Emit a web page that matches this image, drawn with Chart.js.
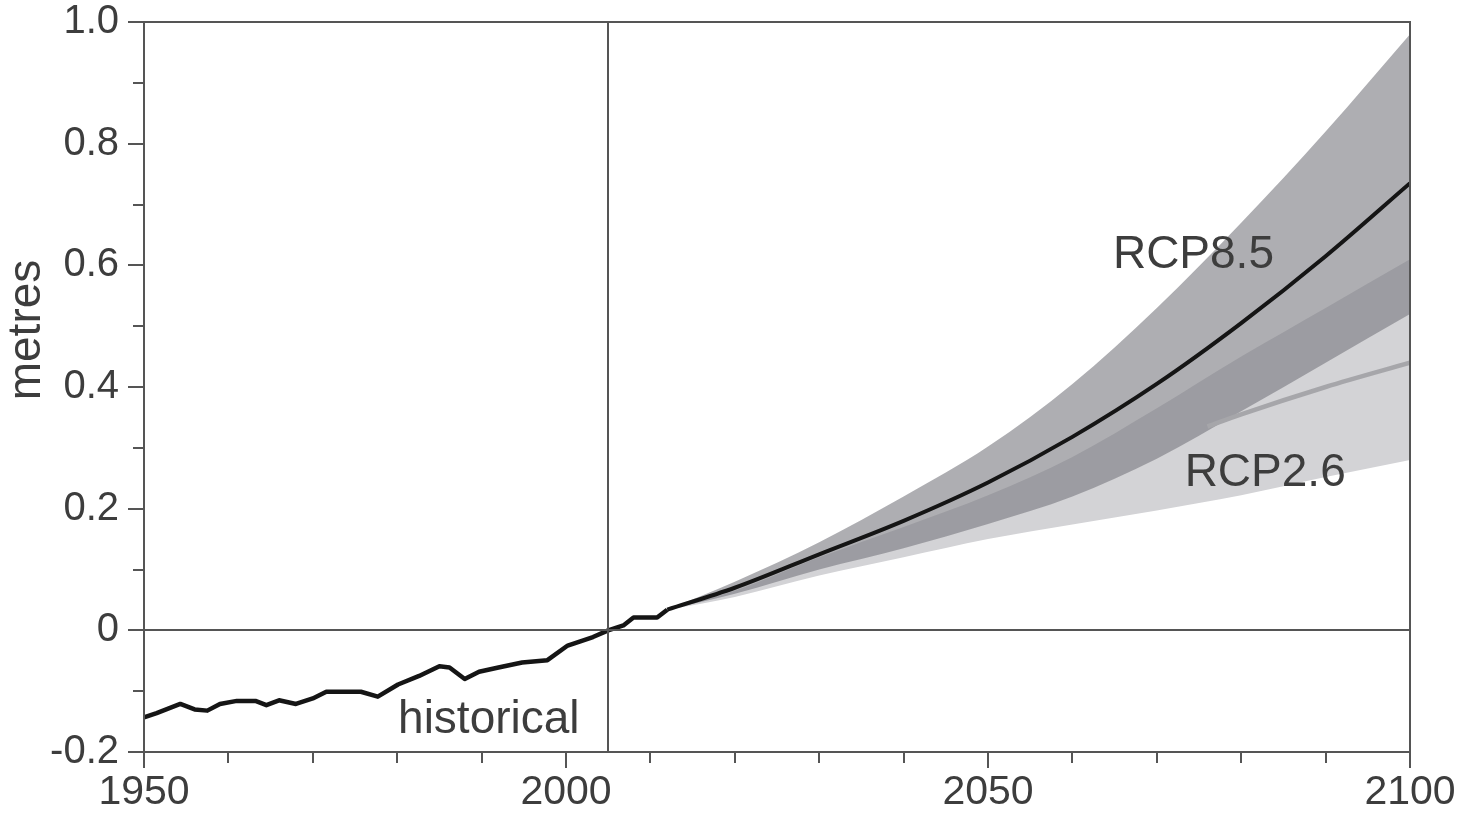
<!DOCTYPE html>
<html><head><meta charset="utf-8">
<script src="https://cdn.jsdelivr.net/npm/chart.js@4.4.1/dist/chart.umd.min.js"></script>
<style>html,body{margin:0;padding:0;background:#fff;}#wrap{width:1461px;height:819px;}</style>
</head><body><div id="wrap"><canvas id="c" width="1461" height="819"></canvas></div>
<script>
// ---- data ----
const histYears  = [1950,1951.5,1954.3,1956,1957.5,1959,1961,1963.2,1964.5,1966,1968,1970,1971.6,1975.7,1977.7,1980.1,1982.6,1985,1986.2,1988,1989.7,1992,1994.8,1997.8,2000.2,2003.2,2005,2006.8,2008,2010.8,2012];
const histValues = [-0.143,-0.136,-0.121,-0.130,-0.132,-0.121,-0.116,-0.116,-0.123,-0.115,-0.121,-0.112,-0.101,-0.101,-0.109,-0.089,-0.075,-0.059,-0.061,-0.080,-0.068,-0.061,-0.053,-0.049,-0.025,-0.011,0.000,0.008,0.021,0.021,0.034];

const projYears   = [2012,2020,2030,2040,2050,2060,2070,2080,2090,2100];
const rcp85Upper  = [0.034,0.080,0.145,0.220,0.302,0.405,0.530,0.670,0.820,0.980];
const rcp85Median = [0.034,0.070,0.125,0.180,0.243,0.318,0.405,0.505,0.615,0.735];
const rcp85Lower  = [0.034,0.060,0.100,0.135,0.175,0.220,0.282,0.360,0.440,0.520];
const rcp26Upper  = [0.034,0.065,0.120,0.170,0.222,0.285,0.365,0.450,0.530,0.610];
const rcp26Lower  = [0.034,0.055,0.090,0.120,0.150,0.174,0.197,0.222,0.252,0.280];
const rcp26MedYears = [2076,2080,2090,2100];
const rcp26Median   = [0.335,0.355,0.400,0.440];

const xLabelYears = [1950,2000,2050,2100];
const yLabelValues = [-0.2,0,0.2,0.4,0.6,0.8,1.0];
const baseYear = 2005;
const annotations = [
  {text:'historical', x:1980.1, y:-0.169},
  {text:'RCP8.5',     x:2064.8, y:0.595},
  {text:'RCP2.6',     x:2073.3, y:0.238}
];
const yTitle = 'metres';

// ---- helpers ----
const pts = (xs, ys) => xs.map((x,i)=>({x:x, y:ys[i]}));
const FONT = "'Liberation Sans', Arial, Helvetica, sans-serif";
const AXIS = '#555555';
const TXT = '#3d3d3d';

const decor = {
  id:'decor',
  afterDatasetsDraw(chart){
    const {ctx, chartArea:a, scales:{x,y}} = chart;
    ctx.save();
    ctx.strokeStyle = AXIS; ctx.lineWidth = 2;
    ctx.beginPath();
    const y0 = Math.round(y.getPixelForValue(0));
    ctx.moveTo(a.left, y0); ctx.lineTo(a.right, y0);
    const xb = Math.round(x.getPixelForValue(baseYear));
    ctx.moveTo(xb, a.top); ctx.lineTo(xb, a.bottom);
    ctx.stroke();
    ctx.strokeRect(a.left, a.top, a.right - a.left, a.bottom - a.top);
    ctx.beginPath();
    for (let i = 0; i <= 12; i++) {
      const v = -0.2 + i*0.1;
      const py = Math.round(y.getPixelForValue(v));
      const len = (i % 2 === 0) ? 16 : 11;
      ctx.moveTo(a.left, py); ctx.lineTo(a.left - len, py);
    }
    for (let yr = 1950; yr <= 2100; yr += 10) {
      const px = Math.round(x.getPixelForValue(yr));
      const len = (yr % 50 === 0) ? 16 : 11;
      ctx.moveTo(px, a.bottom); ctx.lineTo(px, a.bottom + len);
    }
    ctx.stroke();
    ctx.fillStyle = TXT;
    ctx.font = '46px ' + FONT;
    ctx.textAlign = 'left'; ctx.textBaseline = 'alphabetic';
    annotations.forEach(t => ctx.fillText(t.text, x.getPixelForValue(t.x), y.getPixelForValue(t.y)));
    ctx.translate(27, 330);
    ctx.rotate(-Math.PI/2);
    ctx.textAlign = 'center'; ctx.textBaseline = 'middle';
    ctx.fillText(yTitle, 0, 0);
    ctx.restore();
  }
};

new Chart(document.getElementById('c'), {
  type:'line',
  data:{
    datasets:[
      {label:'historical', data:pts(histYears, histValues), borderColor:'#151515', borderWidth:4.5, pointRadius:0, tension:0, fill:false, order:0, borderJoinStyle:'round'},
      {label:'RCP8.5 median', data:pts(projYears, rcp85Median), borderColor:'#151515', borderWidth:4, pointRadius:0, cubicInterpolationMode:'monotone', fill:false, order:1},
      {label:'RCP2.6 median', data:pts(rcp26MedYears, rcp26Median), borderColor:'#a6a6aa', borderWidth:4.5, pointRadius:0, cubicInterpolationMode:'monotone', fill:false, order:2},
      {label:'RCP8.5 upper', data:pts(projYears, rcp85Upper), borderWidth:0, borderColor:'rgba(0,0,0,0)', pointRadius:0, cubicInterpolationMode:'monotone', fill:'+1', backgroundColor:'rgba(120,120,126,0.6)', order:3},
      {label:'RCP8.5 lower', data:pts(projYears, rcp85Lower), borderWidth:0, borderColor:'rgba(0,0,0,0)', pointRadius:0, cubicInterpolationMode:'monotone', fill:false, order:3},
      {label:'RCP2.6 upper', data:pts(projYears, rcp26Upper), borderWidth:0, borderColor:'rgba(0,0,0,0)', pointRadius:0, cubicInterpolationMode:'monotone', fill:'+1', backgroundColor:'#d3d3d6', order:5},
      {label:'RCP2.6 lower', data:pts(projYears, rcp26Lower), borderWidth:0, borderColor:'rgba(0,0,0,0)', pointRadius:0, cubicInterpolationMode:'monotone', fill:false, order:5}
    ]
  },
  options:{
    responsive:false, animation:false, devicePixelRatio:1,
    layout:{padding:{left:0, top:22, right:51, bottom:0}},
    plugins:{legend:{display:false}, tooltip:{enabled:false}},
    scales:{
      x:{
        type:'linear', min:1950, max:2100,
        afterFit(s){ s.height = 67; s.paddingLeft = 0; s.paddingRight = 0; },
        border:{display:false},
        grid:{display:true, drawOnChartArea:false, drawTicks:true, tickLength:16, tickColor:'rgba(0,0,0,0)'},
        ticks:{stepSize:10, autoSkip:false, maxRotation:0, padding:4, color:TXT,
          font:{family:FONT, size:41, lineHeight:1},
          callback:(v)=> xLabelYears.includes(v) ? String(v) : ''}
      },
      y:{
        type:'linear', min:-0.2, max:1.0,
        afterFit(s){ s.width = 144; s.paddingTop = 0; s.paddingBottom = 0; },
        border:{display:false},
        grid:{display:true, drawOnChartArea:false, drawTicks:true, tickLength:16, tickColor:'rgba(0,0,0,0)'},
        ticks:{stepSize:0.1, autoSkip:false, padding:9, color:TXT,
          font:{family:FONT, size:40, lineHeight:1},
          callback:(v)=>{
            const m = yLabelValues.find(l => Math.abs(l - v) < 1e-6);
            if (m === undefined) return '';
            return m === 0 ? '0' : m.toFixed(1);
          }}
      }
    }
  },
  plugins:[decor]
});
</script>
</body></html>
